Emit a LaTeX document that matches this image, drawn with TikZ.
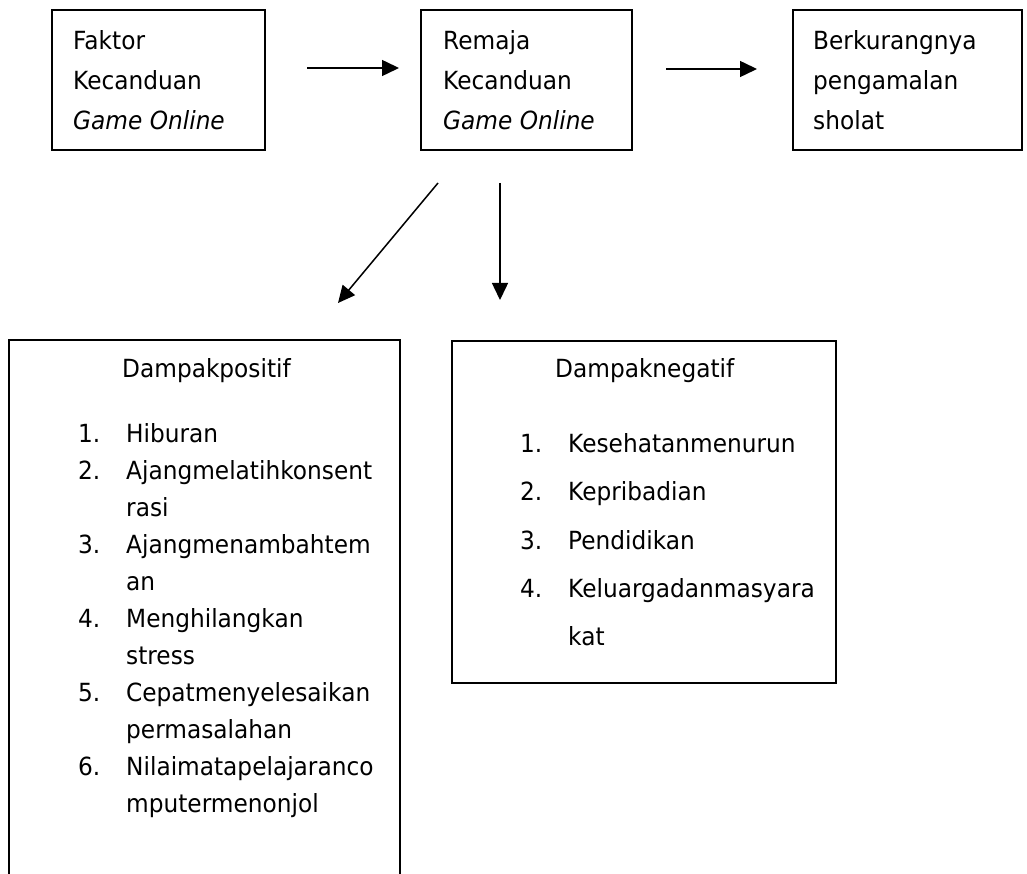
\documentclass[tikz,border=0pt]{standalone}
\usepackage{fontspec}
\setmainfont[FakeStretch=0.93]{DejaVu Sans}
\usetikzlibrary{arrows.meta}
\tikzset{
  box/.style={draw, line width=1.4pt, inner sep=0pt},
  txt/.style={anchor=base west, inner sep=0pt, font=\fontsize{25}{30}\selectfont},
  arr/.style={line width=1.5pt, -{Triangle[length=17pt,width=16pt]}},
}
\begin{document}
\begin{tikzpicture}[x=1pt,y=-1pt]
\useasboundingbox (0,0) rectangle (1027,874);
% top boxes
\node[box, minimum width=213pt, minimum height=140pt] (b1) at (158.5,80) {};
\node[box, minimum width=211pt, minimum height=140pt] (b2) at (526.5,80) {};
\node[box, minimum width=229pt, minimum height=140pt] (b3) at (907.5,80) {};
\node[txt] (t11) at (73,50) {Faktor};
\node[txt] (t12) at (73,90) {Kecanduan};
\node[txt] (t13) at (73,130) {\itshape Game Online};
\node[txt] (t21) at (443,50) {Remaja};
\node[txt] (t22) at (443,90) {Kecanduan};
\node[txt] (t23) at (443,130) {\itshape Game Online};
\node[txt] (t31) at (813,50) {Berkurangnya};
\node[txt] (t32) at (813,90) {pengamalan};
\node[txt] (t33) at (813,130) {sholat};
% arrows
\coordinate (a1s) at (307,68); \coordinate (a1e) at (399,68);
\coordinate (a2s) at (666,69); \coordinate (a2e) at (757,69);
\coordinate (a3s) at (438,183); \coordinate (a3e) at (338,303);
\coordinate (a4s) at (500,183); \coordinate (a4e) at (500,300);
\draw[arr] (a1s) -- (a1e);
\draw[arr] (a2s) -- (a2e);
\draw[arr] (a3s) -- (a3e);
\draw[arr] (a4s) -- (a4e);
% left bottom box (open at bottom)
\draw[line width=1.4pt] (9,874) -- (9,340) -- (400,340) -- (400,874);
\node[txt] (pos) at (122,377) {Dampakpositif};
\node[txt] (p1n) at (78,442) {1.}; \node[txt] (p1) at (126,442) {Hiburan};
\node[txt] (p2n) at (78,479) {2.}; \node[txt] (p2) at (126,479) {Ajangmelatihkonsent};
\node[txt] (p2b) at (126,516) {rasi};
\node[txt] (p3n) at (78,553) {3.}; \node[txt] (p3) at (126,553) {Ajangmenambahtem};
\node[txt] (p3b) at (126,590) {an};
\node[txt] (p4n) at (78,627) {4.}; \node[txt] (p4) at (126,627) {Menghilangkan};
\node[txt] (p4b) at (126,664) {stress};
\node[txt] (p5n) at (78,701) {5.}; \node[txt] (p5) at (126,701) {Cepatmenyelesaikan};
\node[txt] (p5b) at (126,738) {permasalahan};
\node[txt] (p6n) at (78,775) {6.}; \node[txt] (p6) at (126,775) {Nilaimatapelajaranco};
\node[txt] (p6b) at (126,812) {mputermenonjol};
% right bottom box
\node[box, minimum width=384pt, minimum height=342pt] (neg) at (644,512) {};
\node[txt] (negt) at (555,377) {Dampaknegatif};
\node[txt] (n1n) at (520,452) {1.}; \node[txt] (n1) at (568,452) {Kesehatanmenurun};
\node[txt] (n2n) at (520,500) {2.}; \node[txt] (n2) at (568,500) {Kepribadian};
\node[txt] (n3n) at (520,549) {3.}; \node[txt] (n3) at (568,549) {Pendidikan};
\node[txt] (n4n) at (520,597) {4.}; \node[txt] (n4) at (568,597) {Keluargadanmasyara};
\node[txt] (n4b) at (568,645) {kat};
\end{tikzpicture}
\end{document}
